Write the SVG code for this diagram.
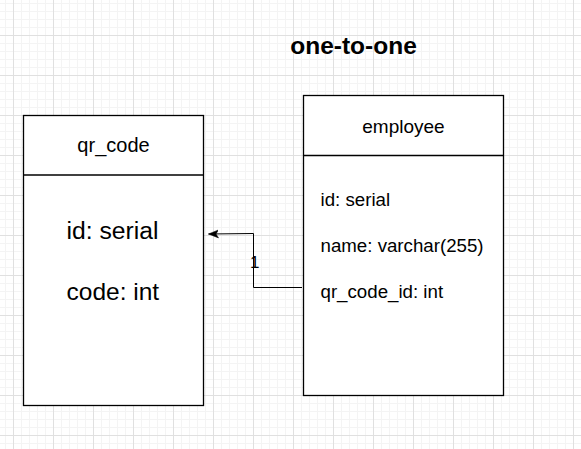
<svg xmlns="http://www.w3.org/2000/svg" width="581" height="449" viewBox="0 0 581 449">
  <style>
    .box { fill: #ffffff; stroke: #000000; stroke-width: 1.3; }
    .div { stroke: #000000; stroke-width: 1.3; fill: none; }
    .t { font-family: "Liberation Sans", Arial, sans-serif; fill: #000000; }
    .edge { fill: none; stroke: #000000; stroke-width: 1; }
  </style>
  <defs>
    <pattern id="grid" patternUnits="userSpaceOnUse" x="13" y="35" width="40" height="40">
      <rect x="8" y="0" width="1" height="40" fill="#f4f4f4"/>
      <rect x="16" y="0" width="1" height="40" fill="#f4f4f4"/>
      <rect x="24" y="0" width="1" height="40" fill="#f4f4f4"/>
      <rect x="32" y="0" width="1" height="40" fill="#f4f4f4"/>
      <rect x="0" y="8" width="40" height="1" fill="#f4f4f4"/>
      <rect x="0" y="16" width="40" height="1" fill="#f4f4f4"/>
      <rect x="0" y="24" width="40" height="1" fill="#f4f4f4"/>
      <rect x="0" y="32" width="40" height="1" fill="#f4f4f4"/>
      <rect x="0" y="0" width="1" height="40" fill="#e0e0e0"/>
      <rect x="0" y="0" width="40" height="1" fill="#e0e0e0"/>
    </pattern>
    <marker id="arrow" markerUnits="userSpaceOnUse" markerWidth="12" markerHeight="10" refX="10" refY="5" orient="auto">
      <path d="M0,1 L10,5 L0,9 L2.5,5 Z" fill="#000000" stroke="#000000" stroke-width="0.5"/>
    </marker>
  </defs>
  <rect x="0" y="0" width="581" height="449" fill="#ffffff"/>
  <rect x="0" y="0" width="581" height="449" fill="url(#grid)"/>

  <text class="t" x="353.5" y="54" font-size="24.5" font-weight="bold" text-anchor="middle">one-to-one</text>

  <g id="qr_code">
    <rect class="box" x="23.5" y="115.5" width="180" height="290"/>
    <line class="div" x1="23.5" y1="175" x2="203.5" y2="175"/>
    <text class="t" x="113.5" y="152" font-size="20" text-anchor="middle">qr_code</text>
    <text class="t" x="66.5" y="239" font-size="24.7">id: serial</text>
    <text class="t" x="66.5" y="300" font-size="24.5">code: int</text>
  </g>

  <g id="employee">
    <rect class="box" x="303.5" y="95.5" width="200" height="300"/>
    <line class="div" x1="303.5" y1="155.5" x2="503.5" y2="155.5"/>
    <text class="t" x="403.5" y="132.5" font-size="19" text-anchor="middle">employee</text>
    <text class="t" x="320.5" y="206" font-size="18.7">id: serial</text>
    <text class="t" x="320.5" y="252" font-size="18.7">name: varchar(255)</text>
    <text class="t" x="320.5" y="298" font-size="18.7">qr_code_id: int</text>
  </g>

  <g id="connectors">
    <path class="edge" d="M302,287.5 L253.5,287.5 L253.5,233.5 L208.5,234" marker-end="url(#arrow)"/>
    <text class="t" x="250" y="268" font-size="17">1</text>
  </g>
</svg>
